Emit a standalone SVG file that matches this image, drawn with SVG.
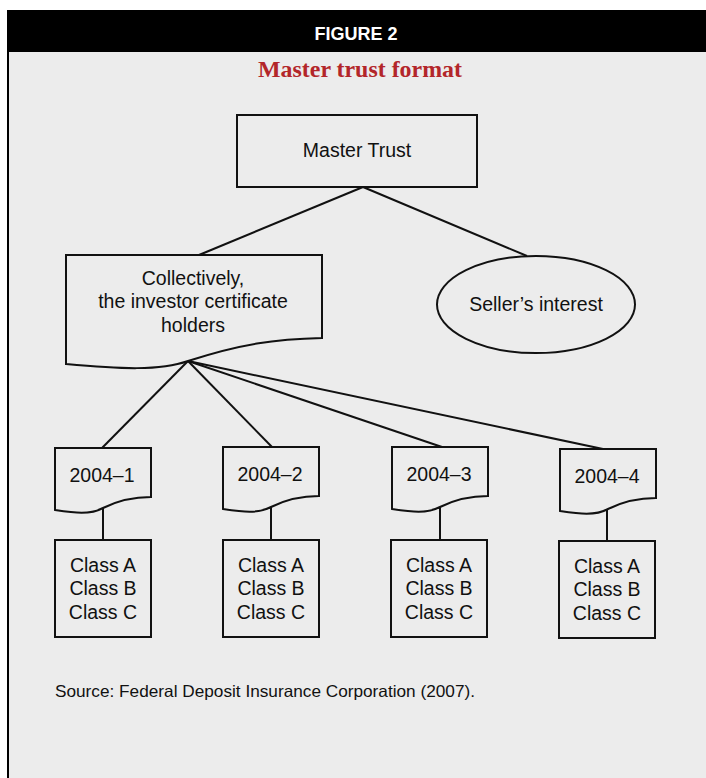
<svg xmlns="http://www.w3.org/2000/svg" xmlns:xlink="http://www.w3.org/1999/xlink" width="706" height="778" viewBox="0 0 706 778">
<defs>
<style>
.shape{fill:#ececec;stroke:#111;stroke-width:2;stroke-linejoin:miter}
.ln{stroke:#111;stroke-width:2;fill:none}
.t{font-family:"Liberation Sans",Arial,sans-serif;font-size:19.5px;fill:#111;text-anchor:middle}
</style>
<path id="doc" d="M0,0 H96 V49 C75,49 60,54 48,60 C35,67 20,65 0,62 Z"/>
</defs>
<rect x="0" y="0" width="706" height="778" fill="#ffffff"/>
<rect x="7" y="52" width="699" height="726" fill="#ececec"/>
<rect x="7" y="10" width="699" height="42" fill="#000"/>
<line x1="8" y1="52" x2="8" y2="778" stroke="#000" stroke-width="2"/>
<text x="356" y="40" font-family="'Liberation Sans',Arial,sans-serif" font-size="18" font-weight="bold" fill="#fff" text-anchor="middle">FIGURE 2</text>
<text x="360" y="77" font-family="'Liberation Serif','Times New Roman',serif" font-size="23" font-weight="bold" fill="#b3262a" text-anchor="middle" textLength="204" lengthAdjust="spacingAndGlyphs">Master trust format</text>

<g id="connectors">
<line class="ln" x1="363" y1="187" x2="199" y2="255"/>
<line class="ln" x1="363" y1="187" x2="527" y2="256"/>
<line class="ln" x1="188" y1="361" x2="102" y2="448"/>
<line class="ln" x1="188" y1="361" x2="272" y2="447"/>
<line class="ln" x1="188" y1="361" x2="442" y2="447"/>
<line class="ln" x1="188" y1="361" x2="603" y2="449"/>
<line class="ln" x1="103" y1="508" x2="103" y2="540"/>
<line class="ln" x1="271" y1="507" x2="271" y2="540"/>
<line class="ln" x1="440" y1="507" x2="440" y2="540"/>
<line class="ln" x1="607" y1="509" x2="607" y2="541"/>
</g>

<g id="master-trust">
<rect class="shape" x="237" y="115" width="240" height="72"/>
<text class="t" x="357" y="157">Master Trust</text>
</g>

<g id="investors">
<path class="shape" d="M66,255 H322 V338 C275,339 240,344 188,361 C160,371 120,369 66,364 Z"/>
<text class="t" x="193" y="285">Collectively,</text>
<text class="t" x="193" y="308">the investor certificate</text>
<text class="t" x="193" y="332">holders</text>
</g>

<g id="sellers-interest">
<ellipse class="shape" cx="536" cy="304.5" rx="99" ry="48.5"/>
<text class="t" x="536" y="311">Seller’s interest</text>
</g>

<g id="series-1">
<use xlink:href="#doc" class="shape" transform="translate(55,448)"/>
<text class="t" x="102" y="482">2004–1</text>
</g>
<g id="series-2">
<use xlink:href="#doc" class="shape" transform="translate(223,447)"/>
<text class="t" x="270" y="481">2004–2</text>
</g>
<g id="series-3">
<use xlink:href="#doc" class="shape" transform="translate(392,447)"/>
<text class="t" x="439" y="481">2004–3</text>
</g>
<g id="series-4">
<use xlink:href="#doc" class="shape" transform="translate(560,449)"/>
<text class="t" x="607" y="483">2004–4</text>
</g>

<g id="classes-1">
<rect class="shape" x="55" y="540" width="96" height="97"/>
<text class="t" x="103" y="572">Class A</text>
<text class="t" x="103" y="595">Class B</text>
<text class="t" x="103" y="619">Class C</text>
</g>
<g id="classes-2">
<rect class="shape" x="223" y="540" width="96" height="97"/>
<text class="t" x="271" y="572">Class A</text>
<text class="t" x="271" y="595">Class B</text>
<text class="t" x="271" y="619">Class C</text>
</g>
<g id="classes-3">
<rect class="shape" x="391" y="540" width="96" height="97"/>
<text class="t" x="439" y="572">Class A</text>
<text class="t" x="439" y="595">Class B</text>
<text class="t" x="439" y="619">Class C</text>
</g>
<g id="classes-4">
<rect class="shape" x="559" y="541" width="96" height="97"/>
<text class="t" x="607" y="573">Class A</text>
<text class="t" x="607" y="596">Class B</text>
<text class="t" x="607" y="620">Class C</text>
</g>

<text x="55" y="697" font-family="'Liberation Sans',Arial,sans-serif" font-size="16.5" fill="#111" textLength="420" lengthAdjust="spacingAndGlyphs">Source: Federal Deposit Insurance Corporation (2007).</text>
</svg>
